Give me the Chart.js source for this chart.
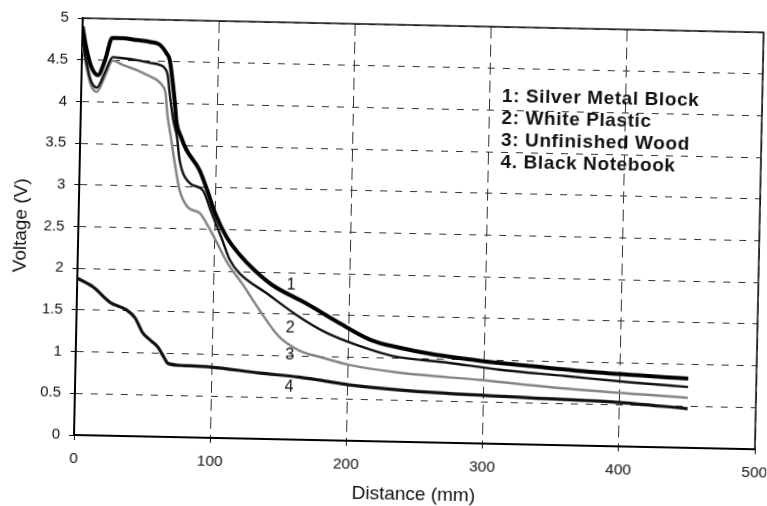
<!DOCTYPE html>
<html>
<head>
<meta charset="utf-8">
<script src="https://cdn.jsdelivr.net/npm/chart.js@4.4.0/dist/chart.umd.min.js"></script>
<style>
  html, body { margin: 0; padding: 0; background: #fff; overflow: hidden; }
  #wrap { width: 767px; height: 506px; position: relative; overflow: hidden; }
  /* the scanned original sits tilted a little clockwise */
  #chart { display: block; transform: rotate(1.2deg); transform-origin: 74px 435px; }
</style>
</head>
<body>
<div id="wrap"><canvas id="chart" width="767" height="506"></canvas></div>
<script>
// Curve data: distance (mm) and voltage (V)
const silverDist = [0, 3, 7, 12, 17, 22, 30, 40, 50, 57, 62, 64.5, 67, 69, 70.5, 74, 78, 88, 94, 100, 109, 119, 130, 143, 168, 193, 217, 237, 261, 298, 335, 384, 450];
const silverVolt = [4.9, 4.65, 4.42, 4.32, 4.5, 4.77, 4.77, 4.75, 4.73, 4.70, 4.6, 4.52, 4.26, 4.0, 3.77, 3.6, 3.45, 3.21, 2.97, 2.70, 2.41, 2.20, 2.02, 1.85, 1.64, 1.41, 1.21, 1.13, 1.06, 0.99, 0.94, 0.88, 0.83];

const plasticDist = [0, 3, 7, 11.5, 17, 22.7, 30, 40, 50, 57, 61, 63.2, 65, 68, 71, 73.3, 81, 90.6, 97.5, 105, 111.6, 119, 139, 161, 183.5, 208, 232, 274, 311, 360, 408, 450];
const plasticVolt = [4.75, 4.5, 4.25, 4.17, 4.35, 4.54, 4.53, 4.51, 4.48, 4.46, 4.42, 4.34, 4.12, 3.8, 3.6, 3.32, 3.05, 2.97, 2.70, 2.41, 2.14, 1.98, 1.75, 1.50, 1.29, 1.14, 1.03, 0.96, 0.89, 0.83, 0.77, 0.73];

const woodDist = [0, 3, 7, 11.5, 17, 22.7, 30, 40.5, 50, 55, 60, 62, 63.5, 66.5, 69.7, 73.8, 80, 89, 94, 99.7, 110, 121, 134, 149, 164, 181, 201, 237, 298, 360, 450];
const woodVolt = [4.7, 4.45, 4.2, 4.12, 4.3, 4.50, 4.45, 4.39, 4.32, 4.28, 4.2, 4.12, 3.88, 3.6, 3.29, 2.96, 2.76, 2.69, 2.57, 2.41, 2.1, 1.86, 1.55, 1.23, 1.07, 0.99, 0.91, 0.83, 0.76, 0.68, 0.60];

const notebookDist = [0, 11.7, 24.4, 36.9, 43, 49, 55, 60, 65, 68, 80, 98.5, 135, 164, 179, 201, 262, 335, 397, 450];
const notebookVolt = [1.88, 1.78, 1.60, 1.51, 1.42, 1.24, 1.15, 1.08, 0.95, 0.88, 0.86, 0.85, 0.79, 0.75, 0.72, 0.67, 0.60, 0.56, 0.53, 0.47];

// Axis ticks
const xTicks = [0, 100, 200, 300, 400, 500];
const yTicks = ['0', '0.5', '1', '1.5', '2', '2.5', '3', '3.5', '4', '4.5', '5'];

// Numbers written next to the curves, and the legend text
const curveNames = ['1', '2', '3', '4'];
const curveNameDist = [157, 157, 157, 157];
const curveNameVolt = [1.85, 1.34, 1.01, 0.63];
const legendLines = ['1: Silver Metal Block', '2: White Plastic', '3: Unfinished Wood', '4. Black Notebook'];
const legendDist = 309;
const legendVolt = 4.16;

const FONT = '"Liberation Sans", Arial, sans-serif';
Chart.defaults.font.family = FONT;
Chart.defaults.color = '#111';

function toPoints(xs, ys) {
    return xs.map((x, i) => ({ x: x, y: ys[i] }));
}

// Box, curve numbers and the text legend
const annotations = {
    id: 'annotations',
    afterDatasetsDraw(chart) {
        const { ctx, chartArea, scales } = chart;
        ctx.save();

        // top and right edges of the frame
        ctx.strokeStyle = '#111';
        ctx.lineWidth = 1.5;
        ctx.beginPath();
        ctx.moveTo(chartArea.left, chartArea.top);
        ctx.lineTo(chartArea.right, chartArea.top);
        ctx.lineTo(chartArea.right, chartArea.bottom);
        ctx.stroke();

        // numbers beside the curves
        ctx.fillStyle = '#111';
        ctx.font = '16px ' + FONT;
        ctx.textAlign = 'center';
        ctx.textBaseline = 'middle';
        curveNames.forEach((name, i) => {
            ctx.fillText(name, scales.x.getPixelForValue(curveNameDist[i]), scales.y.getPixelForValue(curveNameVolt[i]));
        });

        // legend
        ctx.font = 'bold 19px ' + FONT;
        ctx.letterSpacing = '0.6px';
        ctx.textAlign = 'left';
        const lx = scales.x.getPixelForValue(legendDist);
        const ly = scales.y.getPixelForValue(legendVolt);
        legendLines.forEach((line, i) => {
            ctx.fillText(line, lx, ly + i * 22);
        });
        ctx.restore();
    }
};

const ctx = document.getElementById('chart').getContext('2d');
new Chart(ctx, {
    type: 'line',
    data: {
        datasets: [
            {
                label: '3: Unfinished Wood',
                data: toPoints(woodDist, woodVolt),
                borderColor: '#858585',
                borderWidth: 2.5,
                order: 4
            },
            {
                label: '4. Black Notebook',
                data: toPoints(notebookDist, notebookVolt),
                borderColor: '#111',
                borderWidth: 3.2,
                order: 3
            },
            {
                label: '2: White Plastic',
                data: toPoints(plasticDist, plasticVolt),
                borderColor: '#111',
                borderWidth: 2.4,
                order: 2
            },
            {
                label: '1: Silver Metal Block',
                data: toPoints(silverDist, silverVolt),
                borderColor: '#000',
                borderWidth: 4,
                order: 1
            }
        ]
    },
    options: {
        responsive: false,
        devicePixelRatio: 1,
        animation: false,
        layout: { padding: { left: 0, right: 12, top: 18, bottom: 0 } },
        elements: {
            point: { radius: 0 },
            line: { cubicInterpolationMode: 'monotone', fill: false }
        },
        plugins: {
            legend: { display: false },
            tooltip: { enabled: false }
        },
        scales: {
            x: {
                type: 'linear',
                min: xTicks[0],
                max: xTicks[xTicks.length - 1],
                afterBuildTicks(scale) {
                    scale.ticks = xTicks.map(v => ({ value: v }));
                },
                ticks: {
                    font: { size: 15.5 },
                    color: '#111',
                    padding: 9,
                    maxRotation: 0,
                    callback: value => String(value)
                },
                grid: { color: '#333', lineWidth: 1, tickLength: 5, tickColor: '#111', tickBorderDash: [] },
                border: { display: true, color: '#000', width: 2, dash: [12, 6] },
                title: {
                    display: true,
                    text: 'Distance (mm)',
                    font: { size: 19 },
                    color: '#111',
                    padding: { top: 0, bottom: 6.5 }
                },
                afterFit(scale) {
                    scale.height = 71;
                    scale.paddingRight = 1;
                }
            },
            y: {
                type: 'linear',
                min: 0,
                max: 5,
                afterBuildTicks(scale) {
                    scale.ticks = yTicks.map(v => ({ value: parseFloat(v) }));
                },
                ticks: {
                    font: { size: 15 },
                    color: '#111',
                    padding: 9,
                    callback: (value, i) => yTicks[i]
                },
                grid: { color: '#333', lineWidth: 1, tickLength: 5, tickColor: '#111', tickBorderDash: [] },
                border: { display: true, color: '#000', width: 2, dash: [7, 8] },
                title: {
                    display: true,
                    text: 'Voltage (V)',
                    font: { size: 19 },
                    color: '#111',
                    padding: { top: 5, bottom: 0 }
                },
                afterFit(scale) {
                    scale.width = 74;
                }
            }
        }
    },
    plugins: [annotations]
});
</script>
</body>
</html>
